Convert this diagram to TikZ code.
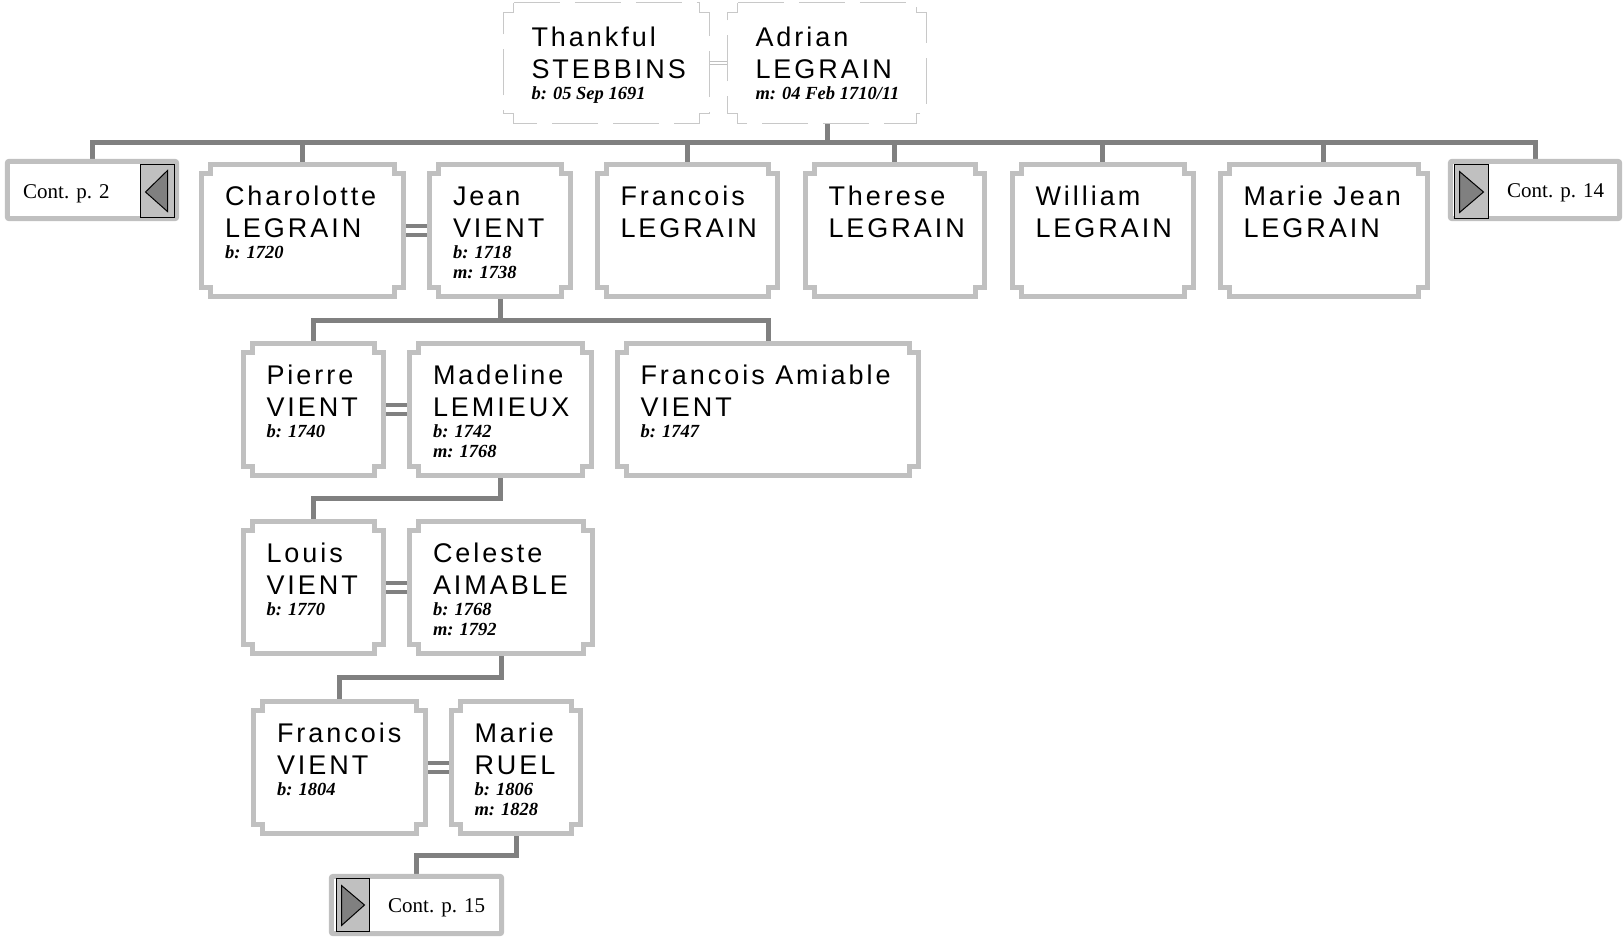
\documentclass[tikz,border=0pt]{standalone}
\usepackage{fontspec}
\setmainfont{Liberation Serif}
\newfontfamily\namefont[LetterSpace=11]{Liberation Sans}
\usetikzlibrary{calc}
\definecolor{boxgray}{HTML}{C0C0C0}
\definecolor{linegray}{HTML}{808080}
\definecolor{dashgray}{HTML}{C8C8C8}
\newcommand\notched[3]{%
 \draw[#1] ($(#2.north west)+(#3,0)$) -- ($(#2.north east)+(-#3,0)$) -- ++(0,#3) -- ($(#2.north east)+(0,#3)$) -- ($(#2.south east)+(0,-#3)$) -- ++(-#3,0) -- ($(#2.south east)+(-#3,0)$) -- ($(#2.south west)+(#3,0)$) -- ++(0,-#3) -- ($(#2.south west)+(0,-#3)$) -- ($(#2.north west)+(0,#3)$) -- ++(#3,0) -- cycle;}
\newcommand\Nm[4]{\node[nametext] (#1) at ($(#2.north west)+(23,#3)$) {#4};}
\newcommand\Dt[4]{\node[datetext] (#1) at ($(#2.north west)+(23,#3)$) {#4};}
\begin{document}
\begin{tikzpicture}[x=1pt,y=-1pt,
  fam/.style={draw=none, inner sep=0pt, shape=rectangle, minimum height=132pt},
  box/.style={draw=boxgray, line width=5pt, fill=white, line join=miter},
  tbox/.style={draw=dashgray, line width=1.2pt, fill=white, dash pattern=on 46pt off 15pt},
  conn/.style={draw=linegray, line width=5pt},
  marr/.style={draw=linegray, line width=4pt},
  tmarr/.style={draw=boxgray, line width=1pt},
  contline/.style={draw=boxgray, line width=5pt, fill=white, rounded corners=2pt},
  btn/.style={draw=black, fill=boxgray, line width=1pt, inner sep=0pt},
  tri/.style={draw=black, fill=linegray, line width=1pt, line join=miter},
  nametext/.style={anchor=base west, inner sep=0pt, font={\namefont\fontsize{27}{32}\selectfont}},
  datetext/.style={anchor=base west, inner sep=0pt, font={\bfseries\itshape\fontsize{18.5}{21}\selectfont}},
  conttext/.style={anchor=base west, inner sep=0pt, font={\fontsize{21}{25}\selectfont}}]
\useasboundingbox (0,0) rectangle (1623,938);
% ---- nodes (geometry) ----
\node[fam, minimum width=205pt, minimum height=120pt] (thankful) at (606.5,63) {};
\node[fam, minimum width=198pt, minimum height=120pt] (adrian) at (827,63) {};
\node[fam, minimum width=169pt, minimum height=57pt] (cont2) at (92,190) {};
\node[fam, minimum width=169pt, minimum height=57pt] (cont14) at (1535,190) {};
\node[fam, minimum width=170pt, minimum height=57pt] (cont15) at (416.5,905) {};
\node[fam, minimum width=201.5pt] (charlotte) at (302.75,230.5) {};
\node[fam, minimum width=140pt] (jean) at (500,230.5) {};
\node[fam, minimum width=179.5pt] (francoisL) at (687.25,230.5) {};
\node[fam, minimum width=178.5pt] (therese) at (894.75,230.5) {};
\node[fam, minimum width=180.5pt] (william) at (1102.75,230.5) {};
\node[fam, minimum width=206.5pt] (mariejean) at (1323.75,230.5) {};
\node[fam, minimum width=140pt] (pierre) at (313.5,409.5) {};
\node[fam, minimum width=181.5pt] (madeline) at (500.75,409.5) {};
\node[fam, minimum width=301pt] (francoisA) at (768,409.5) {};
\node[fam, minimum width=140pt] (louis) at (313.5,587.5) {};
\node[fam, minimum width=182pt] (celeste) at (501,587.5) {};
\node[fam, minimum width=171.5pt] (francoisV) at (339.75,767.5) {};
\node[fam, minimum width=129pt] (marieR) at (516,767.5) {};
\coordinate (lv1) at (0,142.5);
\coordinate (lv2) at (0,320);
\coordinate (lv3) at (0,498.5);
\coordinate (lv4) at (0,677.5);
\coordinate (lv5) at (0,855);
% ---- connectors ----
\draw[conn] (adrian.south) -- (adrian.south |- lv1);
\draw[conn] (cont2.north) -- (cont2.north |- lv1) -| (cont14.north);
\foreach \c in {charlotte,francoisL,therese,william,mariejean}
  \draw[conn] (\c.north) -- (\c.north |- lv1);
\draw[conn] (jean.south) -- (jean.south |- lv2) -| (pierre.north);
\draw[conn] (jean.south |- lv2) -| (francoisA.north);
\draw[conn] (madeline.south) -- (madeline.south |- lv3) -| (louis.north);
\draw[conn] (celeste.south) -- (celeste.south |- lv4) -| (francoisV.north);
\draw[conn] (marieR.south) -- (marieR.south |- lv5) -| (cont15.north);
% marriages
\draw[tmarr] ($(thankful.east)+(0,-1.7)$) -- ($(adrian.west)+(0,-1.7)$);
\draw[tmarr] ($(thankful.east)+(0,1.7)$) -- ($(adrian.west)+(0,1.7)$);
\foreach \a/\b in {charlotte/jean,pierre/madeline,louis/celeste,francoisV/marieR}{
  \draw[marr] ($(\a.east)+(0,-4.5)$) -- ($(\b.west)+(0,-4.5)$);
  \draw[marr] ($(\a.east)+(0,4.5)$) -- ($(\b.west)+(0,4.5)$);
}
% ---- boxes ----
\notched{tbox}{thankful}{10}
\notched{tbox}{adrian}{10}
\foreach \c in {charlotte,jean,francoisL,therese,william,mariejean,pierre,madeline,francoisA,louis,celeste,francoisV,marieR}
  {\notched{box}{\c}{9}}
\foreach \c in {cont2,cont14,cont15}
  \draw[contline] (\c.north west) rectangle (\c.south east);
% continuation buttons
\node[btn, minimum width=34pt, minimum height=53pt] (cont2b) at (157,190.5) {};
\draw[tri] ($(cont2b.west)+(6,1.5)$) -- ($(cont2b.north east)+(-7,7)$) -- ($(cont2b.south east)+(-7,-6)$) -- cycle;
\node[btn, minimum width=34pt, minimum height=54pt] (cont14b) at (1471,191) {};
\draw[tri] ($(cont14b.north west)+(6,8)$) -- ($(cont14b.south west)+(6,-6)$) -- ($(cont14b.east)+(-5,1)$) -- cycle;
\node[btn, minimum width=33pt, minimum height=53pt] (cont15b) at (352.5,904.5) {};
\draw[tri] ($(cont15b.north west)+(6,8)$) -- ($(cont15b.south west)+(6,-6)$) -- ($(cont15b.east)+(-5,0.5)$) -- cycle;
\node[conttext] (cont2t) at (23,198) {Cont. p. 2};
\node[conttext] (cont14t) at (1507,197.5) {Cont. p. 14};
\node[conttext] (cont15t) at (388,912) {Cont. p. 15};
% ---- texts ----
\node[nametext] (thankful-a) at ($(thankful.north west)+(27.5,44)$) {Thankful};
\node[nametext] (thankful-b) at ($(thankful.north west)+(27.5,76)$) {STEBBINS};
\node[datetext] (thankful-c) at ($(thankful.north west)+(27.5,97)$) {b: 05 Sep 1691};
\node[nametext] (adrian-a) at ($(adrian.north west)+(27.5,44)$) {Adrian};
\node[nametext] (adrian-b) at ($(adrian.north west)+(27.5,76)$) {LEGRAIN};
\node[datetext] (adrian-c) at ($(adrian.north west)+(27.5,97)$) {m: 04 Feb 1710/11};
\Nm{charlotte-a}{charlotte}{41.5}{Charolotte}
\Nm{charlotte-b}{charlotte}{73.5}{LEGRAIN}
\Dt{charlotte-c}{charlotte}{94.5}{b: 1720}
\Nm{jean-a}{jean}{41.5}{Jean}
\Nm{jean-b}{jean}{73.5}{VIENT}
\Dt{jean-c}{jean}{94.5}{b: 1718}
\Dt{jean-d}{jean}{114.5}{m: 1738}
\Nm{francoisL-a}{francoisL}{41.5}{Francois}
\Nm{francoisL-b}{francoisL}{73.5}{LEGRAIN}
\Nm{therese-a}{therese}{41.5}{Therese}
\Nm{therese-b}{therese}{73.5}{LEGRAIN}
\Nm{william-a}{william}{41.5}{William}
\Nm{william-b}{william}{73.5}{LEGRAIN}
\Nm{mariejean-a}{mariejean}{41.5}{Marie Jean}
\Nm{mariejean-b}{mariejean}{73.5}{LEGRAIN}
\Nm{pierre-a}{pierre}{41.5}{Pierre}
\Nm{pierre-b}{pierre}{73.5}{VIENT}
\Dt{pierre-c}{pierre}{94.5}{b: 1740}
\Nm{madeline-a}{madeline}{41.5}{Madeline}
\Nm{madeline-b}{madeline}{73.5}{LEMIEUX}
\Dt{madeline-c}{madeline}{94.5}{b: 1742}
\Dt{madeline-d}{madeline}{114.5}{m: 1768}
\Nm{francoisA-a}{francoisA}{41.5}{Francois Amiable}
\Nm{francoisA-b}{francoisA}{73.5}{VIENT}
\Dt{francoisA-c}{francoisA}{94.5}{b: 1747}
\Nm{louis-a}{louis}{41.5}{Louis}
\Nm{louis-b}{louis}{73.5}{VIENT}
\Dt{louis-c}{louis}{94.5}{b: 1770}
\Nm{celeste-a}{celeste}{41.5}{Celeste}
\Nm{celeste-b}{celeste}{73.5}{AIMABLE}
\Dt{celeste-c}{celeste}{94.5}{b: 1768}
\Dt{celeste-d}{celeste}{114.5}{m: 1792}
\Nm{francoisV-a}{francoisV}{41.5}{Francois}
\Nm{francoisV-b}{francoisV}{73.5}{VIENT}
\Dt{francoisV-c}{francoisV}{94.5}{b: 1804}
\Nm{marieR-a}{marieR}{41.5}{Marie}
\Nm{marieR-b}{marieR}{73.5}{RUEL}
\Dt{marieR-c}{marieR}{94.5}{b: 1806}
\Dt{marieR-d}{marieR}{114.5}{m: 1828}
\end{tikzpicture}
\end{document}
